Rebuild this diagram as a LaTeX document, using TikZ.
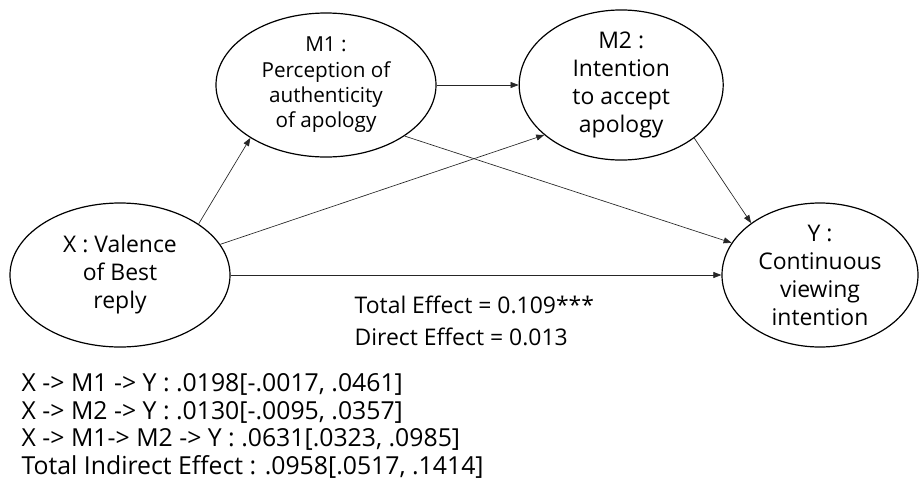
\documentclass[tikz,border=0pt]{standalone}
\usepackage{fontspec}
\setmainfont{Open Sans}
\usetikzlibrary{positioning, arrows.meta, shapes.geometric}

\begin{document}
\begin{tikzpicture}[x=0.75pt, y=-0.75pt, >={Triangle[length=6pt, width=4.5pt]},
  font=\fontsize{17.2}{21}\selectfont,
  var/.style={draw, ellipse, line width=0.9pt, inner sep=0pt, align=center, minimum height=108pt},
  path/.style={->, line width=0.5pt, draw=black!85}]
  \useasboundingbox (0,0) rectangle (922,483);
  \node[var, minimum width=165pt] (x) at (120,275) {X : Valence\\of Best\\reply};
  \node[var, minimum width=165pt, font=\fontsize{15.5}{19}\selectfont] (m1) at (326,85) {M1 :\\Perception of\\authenticity\\of apology};
  \node[var, minimum width=153pt, right=61.5pt of m1] (m2) {M2 :\\Intention\\to accept\\apology};
  \node[var, minimum width=147pt] (y) at (820,275) {Y :\\Continuous\\viewing\\intention};
  \draw[path] (x.33) -- (m1.215);
  \draw[path] (x.17) -- (m2.213);
  \draw[path] (m1.east) -- (m2.west);
  \draw[path] (m1.327) -- (y.160);
  \draw[path] (m2.324) -- (y.143);
  \draw[path] (x.east) -- (y.west);
  \node[anchor=west, align=left, font=\fontsize{17.2}{24}\selectfont] (eff) at (350,321) {Total Effect = 0.109***\\Direct Effect = 0.013};
  \node[anchor=west, align=left, font=\fontsize{18.6}{20.8}\selectfont] (ind) at (17,426) {X -> M1 -> Y : .0198[-.0017, .0461]\\X -> M2 -> Y : .0130[-.0095, .0357]\\X -> M1-> M2 -> Y : .0631[.0323, .0985]\\Total Indirect Effect : .0958[.0517, .1414]};
\end{tikzpicture}
\end{document}
